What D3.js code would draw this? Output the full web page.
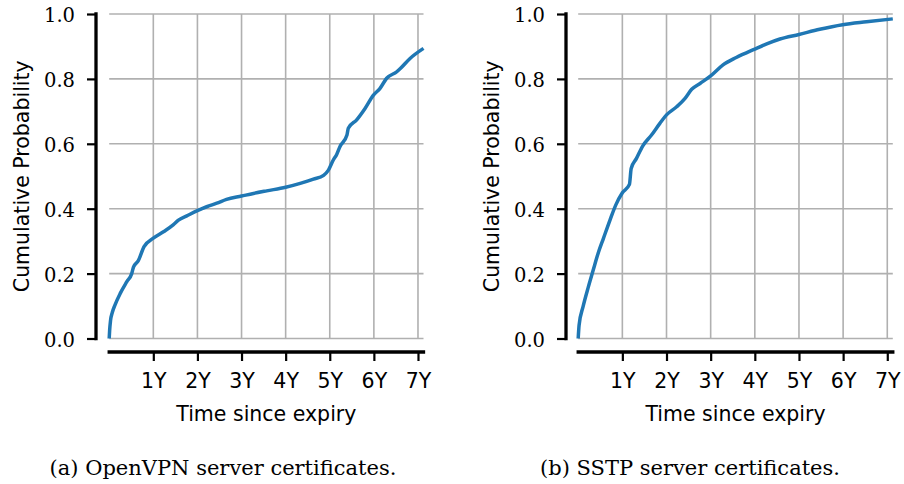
<!DOCTYPE html>
<html>
<head>
<meta charset="utf-8">
<script src="https://cdn.jsdelivr.net/npm/d3@7"></script>
<style>
  body { margin: 0; background: #fff; }
  svg { display: block; }
</style>
</head>
<body>
<div id="chart-area"></div>
<script>
const canvas_width = 904;
const canvas_height = 484;

// axis ticks and labels
const yTicks = [0, 0.2, 0.4, 0.6, 0.8, 1.0];
const xTicks = [1, 2, 3, 4, 5, 6, 7];
const xTickLabels = ['1Y', '2Y', '3Y', '4Y', '5Y', '6Y', '7Y'];
const x_axis_label = 'Time since expiry';
const y_axis_label = 'Cumulative Probability';
const captions = ['(a) OpenVPN server certificates.', '(b) SSTP server certificates.'];
const maxYears = 7.125;

// (a) OpenVPN, CDF (years since expiry, probability)
const openvpnYears = [0, 0.01, 0.03, 0.07, 0.13, 0.25, 0.40, 0.51, 0.55, 0.66, 0.79, 1.0, 1.23, 1.45, 1.57, 1.76,
  2.0, 2.21, 2.44, 2.66, 3.0, 3.27, 3.57, 4.0, 4.33, 4.63, 4.86, 4.97, 5.08, 5.16, 5.23, 5.39, 5.42,
  5.61, 5.80, 5.99, 6.14, 6.29, 6.52, 6.60, 6.82, 7.125];
const openvpnProb = [0, 0.025, 0.055, 0.08, 0.103, 0.139, 0.175, 0.20, 0.22, 0.24, 0.283, 0.309, 0.329, 0.35, 0.365, 0.378,
  0.394, 0.406, 0.417, 0.429, 0.439, 0.447, 0.455, 0.466, 0.478, 0.491, 0.503, 0.519, 0.55, 0.568, 0.591, 0.627, 0.648,
  0.674, 0.709, 0.75, 0.771, 0.802, 0.822, 0.832, 0.863, 0.894];

// (b) SSTP
const sstpYears = [0, 0.02, 0.11, 0.23, 0.34, 0.45, 0.57, 0.72, 0.85, 1.0, 1.16, 1.20, 1.32, 1.46, 1.66, 1.85,
  2.0, 2.23, 2.42, 2.57, 2.76, 3.0, 3.28, 3.58, 4.0, 4.27, 4.57, 5.0, 5.47, 5.99, 6.53, 7.125];
const sstpProb = [0, 0.041, 0.098, 0.159, 0.211, 0.262, 0.308, 0.365, 0.411, 0.449, 0.475, 0.524, 0.555, 0.593, 0.627, 0.663,
  0.689, 0.714, 0.74, 0.768, 0.786, 0.809, 0.843, 0.866, 0.892, 0.908, 0.923, 0.937, 0.953, 0.967, 0.976, 0.985];

const sans = "'DejaVu Sans', sans-serif";
const serif = "'DejaVu Serif', serif";

const panels = [
  { left: 109.2, right: 423.5, spine: 96, years: openvpnYears, prob: openvpnProb, caption: captions[0], captionX: 223 },
  { left: 578.2, right: 892.8, spine: 566, years: sstpYears, prob: sstpProb, caption: captions[1], captionX: 690 }
];
const plot_top = 14, plot_bottom = 338.5, x_axis_y = 352;

let canvas = d3.select('#chart-area').append('svg')
  .attr('width', canvas_width)
  .attr('height', canvas_height);
canvas.append('rect').attr('width', canvas_width).attr('height', canvas_height).attr('fill', '#fff');

panels.forEach((p) => {
  let x = d3.scaleLinear().domain([0, maxYears]).range([p.left, p.right]);
  let y = d3.scaleLinear().domain([0, 1]).range([plot_bottom, plot_top]);
  let group = canvas.append('g');

  // grid
  group.append('g').selectAll('line.h').data(yTicks).enter().append('line')
    .attr('x1', x(0)).attr('x2', x(maxYears))
    .attr('y1', (d) => y(d)).attr('y2', (d) => y(d))
    .attr('stroke', '#b0b0b0').attr('stroke-width', 1.6);
  group.append('g').selectAll('line.v').data(xTicks).enter().append('line')
    .attr('x1', (d) => x(d)).attr('x2', (d) => x(d))
    .attr('y1', y(0)).attr('y2', y(1))
    .attr('stroke', '#b0b0b0').attr('stroke-width', 1.6);

  // left axis (offset spine)
  let leftAxis = d3.axisLeft(y).tickValues(yTicks).tickSize(9).tickPadding(12)
    .tickFormat(d3.format('.1f'));
  let la = group.append('g')
    .attr('class', 'left axis')
    .attr('transform', `translate(${p.spine}, 0)`)
    .call(leftAxis);
  la.select('.domain').remove();
  la.append('line').attr('x1', 0).attr('x2', 0).attr('y1', y(1)).attr('y2', y(0))
    .attr('stroke', '#000').attr('stroke-width', 3.3).attr('stroke-linecap', 'square');
  la.selectAll('.tick line').attr('stroke', '#000').attr('stroke-width', 2.2);
  la.selectAll('.tick text')
    .attr('font-family', serif).attr('font-size', '19.5px').attr('fill', '#000')
    .attr('dy', '0.4em');

  // bottom axis (offset spine)
  let bottomAxis = d3.axisBottom(x).tickValues(xTicks).tickSize(9).tickPadding(14)
    .tickFormat((d, i) => xTickLabels[i]);
  let ba = group.append('g')
    .attr('class', 'bottom axis')
    .attr('transform', `translate(0, ${x_axis_y})`)
    .call(bottomAxis);
  ba.select('.domain').remove();
  ba.append('line').attr('x1', x(0)).attr('x2', x(maxYears)).attr('y1', 0).attr('y2', 0)
    .attr('stroke', '#000').attr('stroke-width', 3.3).attr('stroke-linecap', 'square');
  ba.selectAll('.tick line').attr('stroke', '#000').attr('stroke-width', 2.2);
  ba.selectAll('.tick text')
    .attr('font-family', sans).attr('font-size', '20.5px').attr('fill', '#000')
    .attr('dy', null).attr('y', 36);

  // curve
  let pts = p.years.map((d, i) => [d, p.prob[i]]);
  let line = d3.line().x((d) => x(d[0])).y((d) => y(d[1])).curve(d3.curveMonotoneX);
  group.append('path').datum(pts)
    .attr('d', line)
    .attr('fill', 'none')
    .attr('stroke', '#1f77b4')
    .attr('stroke-width', 3.5)
    .attr('stroke-linejoin', 'round');

  // axis titles
  group.append('text')
    .attr('x', (x(0) + x(maxYears)) / 2)
    .attr('y', 421)
    .attr('font-family', sans).attr('font-size', '20.5px')
    .attr('text-anchor', 'middle')
    .text(x_axis_label);

  group.append('text')
    .attr('transform', `translate(${p.spine - 67}, ${(plot_top + plot_bottom) / 2}) rotate(-90)`)
    .attr('font-family', sans).attr('font-size', '20.5px')
    .attr('text-anchor', 'middle')
    .text(y_axis_label);

  // caption
  group.append('text')
    .attr('x', p.captionX)
    .attr('y', 475)
    .attr('font-family', serif).attr('font-size', '21px')
    .attr('text-anchor', 'middle')
    .text(p.caption);
});
</script>
</body>
</html>
